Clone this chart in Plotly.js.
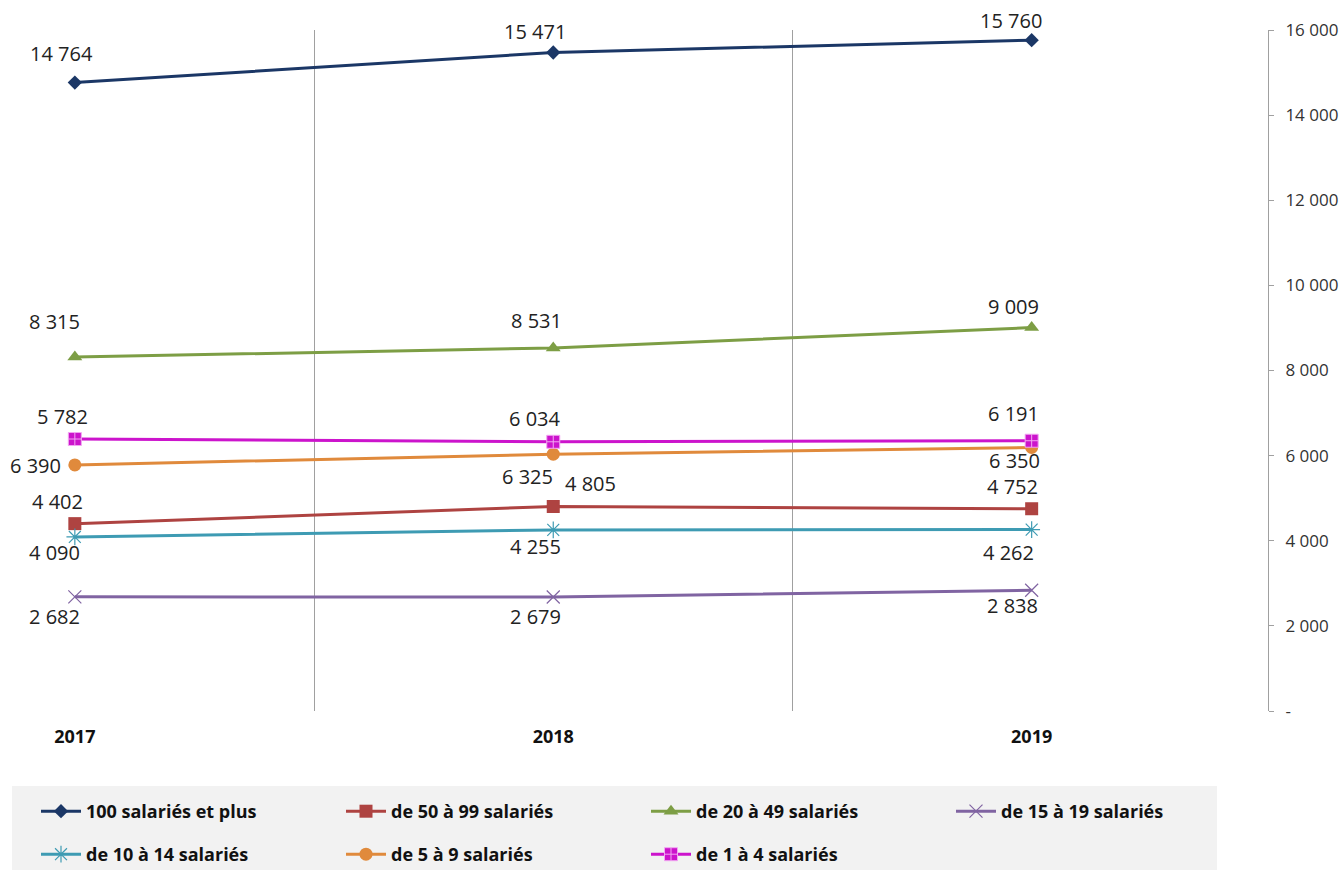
<!DOCTYPE html>
<html>
<head>
<meta charset="utf-8">
<script src="https://cdn.plot.ly/plotly-3.0.1.min.js"></script>
<style>html,body{margin:0;padding:0;background:#fff;}#chart{width:1341px;height:871px;}</style>
</head>
<body>
<div id="chart"></div>
<script>
// ---- data ----
const years = ["2017", "2018", "2019"];
const seriesNames = ["100 salariés et plus", "de 50 à 99 salariés", "de 20 à 49 salariés", "de 15 à 19 salariés", "de 10 à 14 salariés", "de 5 à 9 salariés", "de 1 à 4 salariés"];
const v100plus = [14764, 15471, 15760];
const v50to99 = [4402, 4805, 4752];
const v20to49 = [8315, 8531, 9009];
const v15to19 = [2682, 2679, 2838];
const v10to14 = [4090, 4255, 4262];
const v5to9 = [5782, 6034, 6191];
const v1to4 = [6390, 6325, 6350];
const yTickVals = [0, 2000, 4000, 6000, 8000, 10000, 12000, 14000, 16000];
const yTickText = ["-", "2 000", "4 000", "6 000", "8 000", "10 000", "12 000", "14 000", "16 000"];

// ---- styles ----
const allValues = [v100plus, v50to99, v20to49, v15to19, v10to14, v5to9, v1to4];
const styles = [
  {color: "#1B3766", symbol: "diamond", size: 11},
  {color: "#AE4341", symbol: "square", size: 13},
  {color: "#7D9E45", symbol: "triangle-up", size: 13},
  {color: "#8064A2", symbol: "x-thin-open", size: 13},
  {color: "#3E9BB3", symbol: "asterisk-open", size: 14},
  {color: "#E08A3C", symbol: "circle", size: 13},
  {color: "#CC14CC", symbol: "square-cross", size: 13}
];
const legendRow = [1, 1, 1, 1, 2, 2, 2];
// label offsets in pixels [dx, dy (down positive)] per series & point
const labelOffsets = [
  [[-13, -29], [-18, -21], [-21, -20]],
  [[-17, -22], [37, -23], [-19, -22]],
  [[-20, -36], [-17, -27], [-18, -21]],
  [[-20, 20], [-18, 20], [-19, 15]],
  [[-20, 16], [-18, 17], [-23, 23]],
  [[-12, -48], [-18, -36], [-18, -34]],
  [[-39, 26], [-26, 35], [-17, 20]]
];

const fmt = v => String(v).replace(/\B(?=(\d{3})+(?!\d))/g, " ");

const traces = allValues.map((vals, i) => {
  const s = styles[i];
  const open = s.symbol.indexOf("open") >= 0;
  return {
    type: "scatter", mode: "lines+markers", name: seriesNames[i],
    legend: legendRow[i] === 1 ? "legend" : "legend2",
    x: years.map((_, j) => j), y: vals,
    line: {color: s.color, width: 3},
    marker: {symbol: s.symbol, size: s.size, color: s.color,
             line: {color: s.symbol === "square-cross" ? "#F2A6F2" : s.color, width: open ? 1.2 : (s.symbol === "square-cross" ? 1 : 0)}},
    hoverinfo: "x+y"
  };
});

const annotations = [];
allValues.forEach((vals, i) => {
  vals.forEach((v, j) => {
    const off = labelOffsets[i][j];
    annotations.push({x: j, y: v, xref: "x", yref: "y", text: fmt(v), showarrow: false,
      xshift: off[0], yshift: -off[1], font: {family: "Open Sans, sans-serif", size: 20, color: "#222"}});
  });
});

// layout geometry
const W = 1341, H = 871;
const L = 27, R = 1268, T = 30, B = 711;
const px2x = p => (p - L) / (R - L);
const px2y = p => (B - p) / (B - T);

const legendFont = {family: "Open Sans, sans-serif", size: 18, color: "#111", weight: "bold"};
const legendCommon = {orientation: "h", xanchor: "left", yanchor: "top", bgcolor: "rgba(0,0,0,0)",
  itemwidth: 40, entrywidth: 250, font: legendFont};

const layout = {
  width: W, height: H,
  margin: {l: L, r: W - R, t: T, b: H - B, pad: 0, autoexpand: false},
  paper_bgcolor: "#fff", plot_bgcolor: "#fff",
  showlegend: true,
  font: {family: "Open Sans, sans-serif", color: "#222"},
  xaxis: {
    range: [-0.1, 2.494], tickvals: [0, 1, 2], ticktext: years,
    showgrid: false, zeroline: false, showline: false, ticks: "",
    ticklabelstandoff: 13, automargin: false,
    tickfont: {family: "Open Sans, sans-serif", size: 18, color: "#111", weight: "bold"},
    minor: {tickvals: [0.5, 1.5], showgrid: true, gridcolor: "#a0a0a0", gridwidth: 1, ticks: ""}
  },
  yaxis: {
    side: "right", range: [0, 16000], tickvals: yTickVals, ticktext: yTickText,
    showgrid: false, zeroline: false, showline: true, linecolor: "#a0a0a0", linewidth: 1,
    ticks: "outside", ticklen: 5, tickcolor: "#a0a0a0", ticklabelstandoff: 8, automargin: false,
    tickfont: {family: "Open Sans, sans-serif", size: 17, color: "#333"}
  },
  legend: Object.assign({}, legendCommon, {x: px2x(36), y: px2y(793)}),
  legend2: Object.assign({}, legendCommon, {x: px2x(36), y: px2y(836)}),
  shapes: [{type: "rect", xref: "paper", yref: "paper", x0: px2x(12), x1: px2x(1217), y0: px2y(786), y1: px2y(870),
            fillcolor: "#F2F2F2", line: {width: 0}, layer: "below"}],
  annotations: annotations
};

Plotly.newPlot("chart", traces, layout, {displayModeBar: false, staticPlot: true});
</script>
</body>
</html>
